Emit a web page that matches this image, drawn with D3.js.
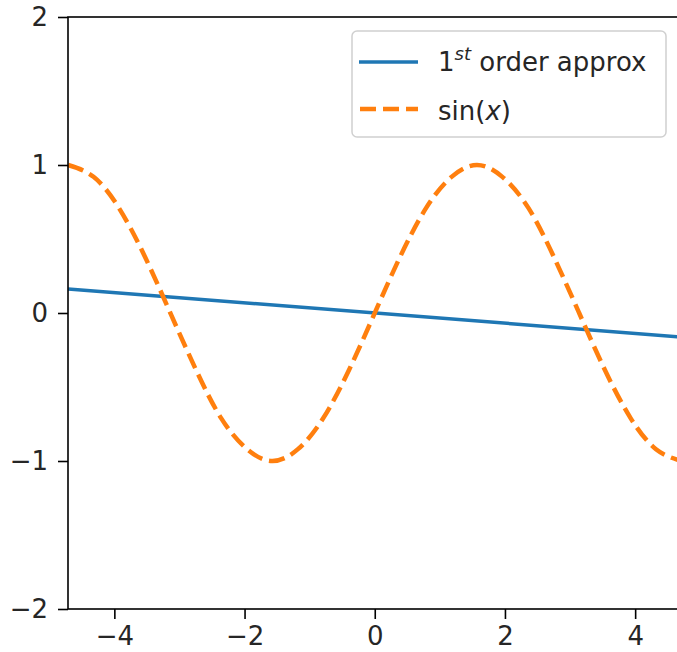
<!DOCTYPE html>
<html>
<head>
<meta charset="utf-8">
<script src="https://cdn.jsdelivr.net/npm/d3@7"></script>
<style>
  body { margin: 0; background: #fff; }
  svg text { font-family: "DejaVu Sans", sans-serif; fill: #262626; }
</style>
</head>
<body>
<div id="chart"></div>
<script>
// sin(x) curve, values
var sin_x = [-4.71, -4.32, -3.93, -3.53, -3.14, -2.75, -2.36, -1.96, -1.57, -1.18, -0.79, -0.39, 0,
             0.39, 0.79, 1.18, 1.57, 1.96, 2.36, 2.75, 3.14, 3.53, 3.93, 4.32, 4.71];
var sin_y = [1, 0.92, 0.71, 0.38, 0, -0.38, -0.71, -0.92, -1, -0.92, -0.71, -0.38, 0,
             0.38, 0.71, 0.92, 1, 0.92, 0.71, 0.38, 0, -0.38, -0.71, -0.92, -1];

// 1st order approx (straight line)
var approx_x = [-4.71, 4.71];
var approx_y = [0.162, -0.162];

var x_ticks = [-4, -2, 0, 2, 4];
var y_ticks = [-2, -1, 0, 1, 2];

const chart_width = 677, chart_height = 652;
const margin = { left: 68, top: 17 };
const plot_w = 613.5, plot_h = 592;
const font_size = 26;

var svg = d3.select("#chart")
  .append("svg")
  .attr("width", chart_width)
  .attr("height", chart_height);

const x_scale = d3.scaleLinear().domain([-4.712, 4.712]).range([margin.left, margin.left + plot_w]);
const y_scale = d3.scaleLinear().domain([-2, 2]).range([margin.top + plot_h, margin.top]);

// lines
var line = d3.line()
  .x(d => x_scale(d[0]))
  .y(d => y_scale(d[1]));

svg.append("path")
  .datum(d3.zip(approx_x, approx_y))
  .attr("d", line)
  .attr("fill", "none")
  .attr("stroke", "#1f77b4")
  .attr("stroke-width", 3.5);

svg.append("path")
  .datum(d3.zip(sin_x, sin_y))
  .attr("d", line.curve(d3.curveNatural))
  .attr("fill", "none")
  .attr("stroke", "#ff7f0e")
  .attr("stroke-width", 4.5)
  .attr("stroke-dasharray", "16,7");

// axes
var x_axis = d3.axisBottom(x_scale).tickValues(x_ticks).tickFormat(d3.format("d"))
  .tickSizeOuter(0).tickSize(10).tickPadding(8);
var y_axis = d3.axisLeft(y_scale).tickValues(y_ticks).tickFormat(d3.format("d"))
  .tickSizeOuter(0).tickSize(10).tickPadding(10);

var gx = svg.append("g")
  .attr("transform", "translate(0," + (margin.top + plot_h) + ")")
  .call(x_axis);
var gy = svg.append("g")
  .attr("transform", "translate(" + margin.left + ",0)")
  .call(y_axis);

[gx, gy].forEach(g => {
  g.select(".domain").remove();
  g.selectAll(".tick line").attr("stroke", "#000").attr("stroke-width", 1.6);
  g.selectAll(".tick text").attr("font-size", font_size).attr("fill", "#262626")
    .attr("font-family", "DejaVu Sans");
});

// spines
svg.append("rect")
  .attr("x", margin.left)
  .attr("y", margin.top)
  .attr("width", plot_w)
  .attr("height", plot_h)
  .attr("fill", "none")
  .attr("stroke", "#000")
  .attr("stroke-width", 1.6);

// legend
var leg = svg.append("g").attr("transform", "translate(352,31)");
leg.append("rect")
  .attr("width", 314)
  .attr("height", 106)
  .attr("rx", 5)
  .attr("fill", "#fff")
  .attr("fill-opacity", 0.8)
  .attr("stroke", "#d0d0d0")
  .attr("stroke-width", 1.5);

leg.append("line")
  .attr("x1", 7).attr("x2", 66).attr("y1", 31).attr("y2", 31)
  .attr("stroke", "#1f77b4").attr("stroke-width", 3.5);
leg.append("line")
  .attr("x1", 8).attr("x2", 66).attr("y1", 78).attr("y2", 78)
  .attr("stroke", "#ff7f0e").attr("stroke-width", 4.5)
  .attr("stroke-dasharray", "16,7");

var t1 = leg.append("text").attr("x", 86).attr("y", 40).attr("font-size", font_size);
t1.append("tspan").text("1");
t1.append("tspan").attr("dy", -11).attr("font-size", 18).attr("font-style", "italic").text("st");
t1.append("tspan").attr("dy", 11).text(" order approx");

var t2 = leg.append("text").attr("x", 86).attr("y", 89).attr("font-size", font_size);
t2.append("tspan").text("sin(");
t2.append("tspan").attr("font-style", "italic").text("x");
t2.append("tspan").text(")");
</script>
</body>
</html>
